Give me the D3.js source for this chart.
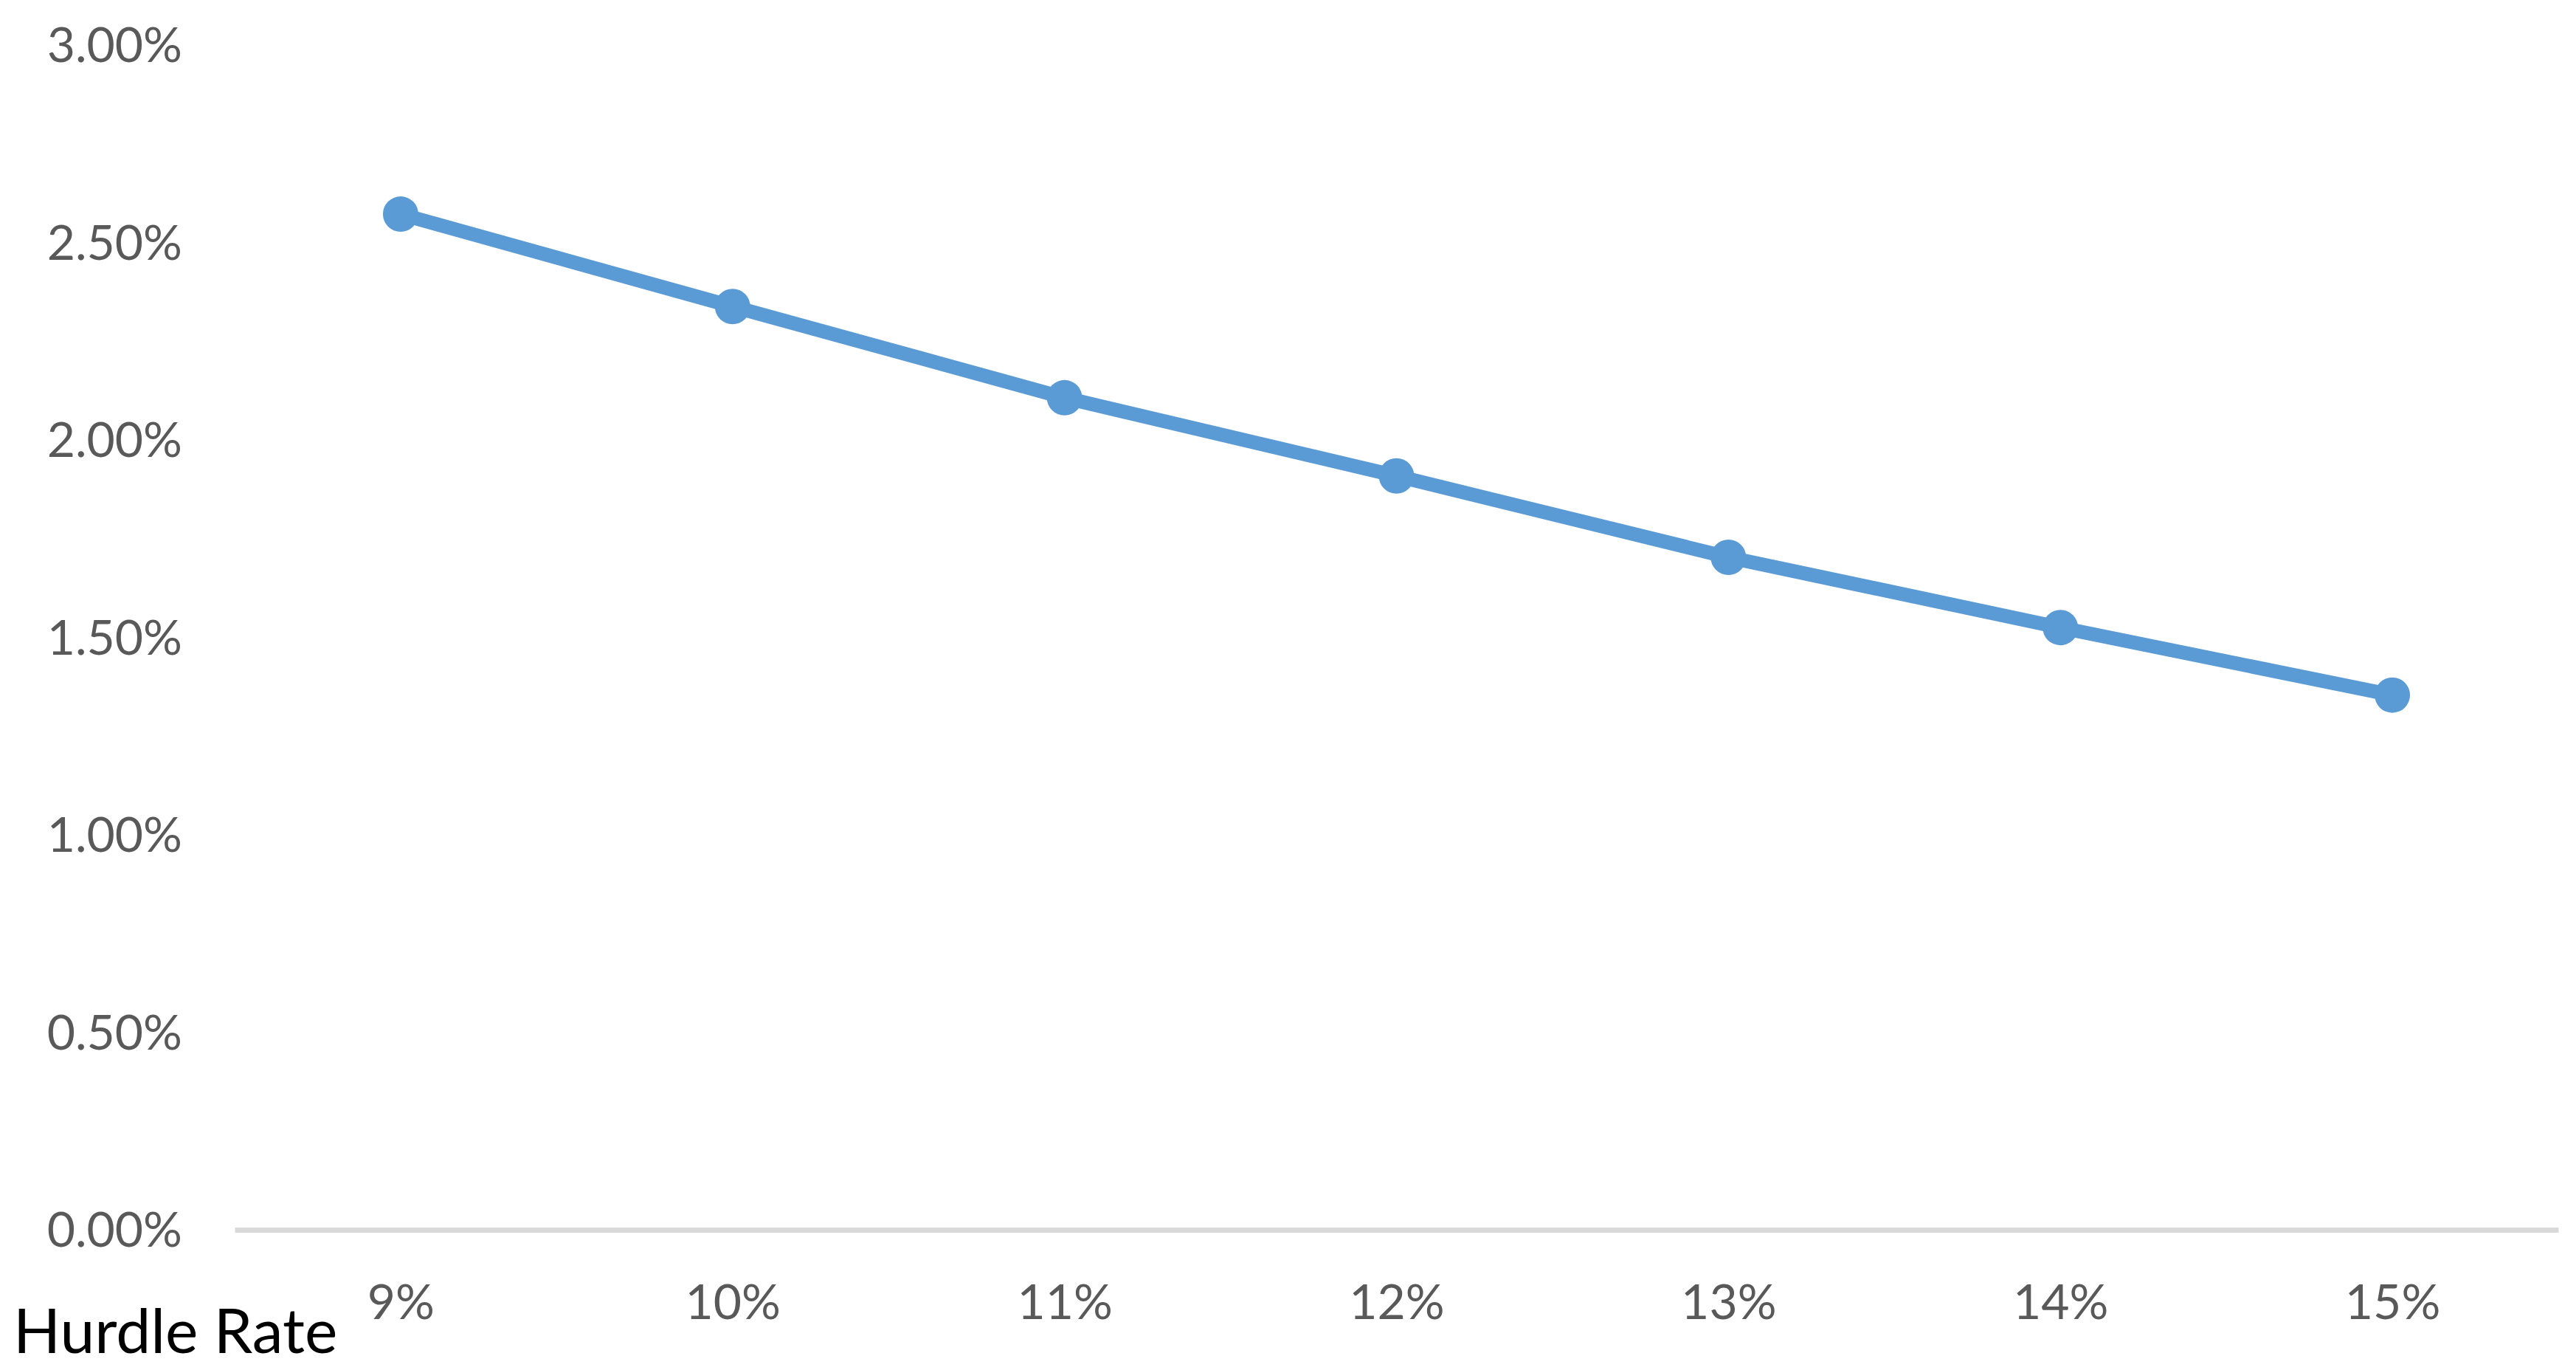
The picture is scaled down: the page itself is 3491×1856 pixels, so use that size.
<!DOCTYPE html>
<html>
<head>
<meta charset="utf-8">
<script src="https://cdn.jsdelivr.net/npm/d3@7"></script>
<style>
  html, body { margin: 0; padding: 0; background: #ffffff; }
  svg { display: block; }
</style>
</head>
<body>
<svg id="chart" width="3491" height="1856"></svg>
<script>
// ---- data ----
const categories = ["9%", "10%", "11%", "12%", "13%", "14%", "15%"];
const values = [0.02570, 0.02336, 0.02105, 0.01907, 0.01701, 0.01523, 0.01352];
const yTicks = [0, 0.005, 0.01, 0.015, 0.02, 0.025, 0.03];
const xAxisTitle = "Hurdle Rate";

// ---- layout ----
const W = 3491, H = 1856;
const plotLeft = 318, plotRight = 3467;
const yZero = 1665, yTop = 60;
const font = "Lato, 'Open Sans', 'Liberation Sans', sans-serif";

const svg = d3.select("#chart");

const x = d3.scalePoint().domain(categories).range([plotLeft, plotRight]).padding(0.5);
const y = d3.scaleLinear().domain([0, 0.03]).range([yZero, yTop]);

// y axis labels
const yAxis = d3.axisLeft(y).tickValues(yTicks).tickSize(0).tickPadding(0)
  .tickFormat(d3.format(".2%"));
const gy = svg.append("g").attr("transform", "translate(247,0)").call(yAxis);
gy.select(".domain").remove();
gy.selectAll("text")
  .attr("x", 0).attr("dy", "0.36em")
  .attr("font-family", font).attr("font-size", 66)
  .attr("fill", "#595959").attr("text-anchor", "end");

// x axis
const xAxis = d3.axisBottom(x).tickSize(0).tickSizeOuter(0);
const gx = svg.append("g").attr("transform", `translate(0,${yZero + 1})`).call(xAxis);
gx.select(".domain").attr("stroke", "#d9d9d9").attr("stroke-width", 7);
gx.selectAll("text")
  .attr("y", 1787 - (yZero + 1)).attr("dy", 0)
  .attr("font-family", font).attr("font-size", 66)
  .attr("fill", "#595959").attr("text-anchor", "middle");

// line
const line = d3.line().x((d, i) => x(categories[i])).y(d => y(d));
svg.append("path").datum(values)
  .attr("d", line)
  .attr("fill", "none")
  .attr("stroke", "#5B9BD5")
  .attr("stroke-width", 19)
  .attr("stroke-linejoin", "round");

// markers
svg.append("g").selectAll("circle").data(values).join("circle")
  .attr("cx", (d, i) => x(categories[i]))
  .attr("cy", d => y(d))
  .attr("r", 24)
  .attr("fill", "#5B9BD5");

// axis title
svg.append("text")
  .attr("x", 18).attr("y", 1833)
  .attr("font-family", font).attr("font-size", 84)
  .attr("fill", "#000000")
  .text(xAxisTitle);
</script>
</body>
</html>
